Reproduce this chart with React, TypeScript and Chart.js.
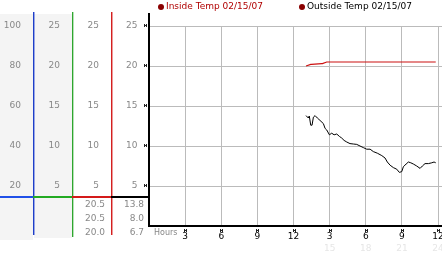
import React, { useEffect, useRef } from "react";
import { Chart, registerables } from "chart.js";

Chart.register(...registerables);

// ---- data ----
const insideLabel = "Inside Temp 02/15/07";
const outsideLabel = "Outside Temp 02/15/07";

const insideHours = [13.04, 13.43, 13.5, 14.34, 14.4, 14.76, 23.81];
const insideTemps = [20.0, 20.2, 20.2, 20.3, 20.3, 20.5, 20.5];

const outsideHours = [
  13.04, 13.23, 13.31, 13.43, 13.54, 13.65, 13.79, 13.98, 14.2, 14.48,
  14.62, 14.76, 14.98, 15.17, 15.37, 15.59, 15.81, 16.0, 16.2, 16.42,
  16.69, 16.97, 17.25, 17.52, 17.8, 18.08, 18.36, 18.63, 18.96, 19.33,
  19.6, 19.79, 20.02, 20.29, 20.57, 20.79, 20.99, 21.12, 21.35, 21.54,
  21.74, 21.95, 22.23, 22.51, 22.7, 22.92, 23.2, 23.48, 23.67, 23.81,
];
const outsideTemps = [
  13.8, 13.5, 13.75, 12.6, 12.6, 13.6, 13.8, 13.5, 13.2, 12.8,
  12.2, 12.0, 11.4, 11.6, 11.4, 11.5, 11.2, 11.0, 10.7, 10.5,
  10.3, 10.25, 10.2, 10.0, 9.8, 9.6, 9.6, 9.3, 9.1, 8.8,
  8.5, 8.0, 7.6, 7.3, 7.1, 6.7, 6.8, 7.4, 7.75, 8.0,
  7.9, 7.75, 7.5, 7.2, 7.5, 7.8, 7.8, 7.9, 8.0, 7.9,
];

const hourTicks = [3, 6, 9, 12, 15, 18, 21, 24];
const secondRowTicks = [15, 18, 21, 24];
const tempTicks = [5, 10, 15, 20, 25];
const percentTicks = [20, 40, 60, 80, 100];
// max, current, min
const insideStats = [20.5, 20.5, 20.0];
const outsideStats = [13.8, 8.0, 6.7];
const axisTitle = "Hours";

const FONT = "DejaVu Sans";

const decorPlugin = {
  id: "decor",
  beforeDraw(chart: any) {
    const ctx = chart.ctx;
    const s = chart.scales;
    ctx.save();
    ctx.fillStyle = "#ffffff";
    ctx.fillRect(0, 0, chart.width, chart.height);
    ctx.fillStyle = "#f4f4f4";
    ctx.fillRect(s.p.left, 14, s.p.right - s.p.left, 226);
    ctx.fillRect(s.a.left + 1, 14, s.a.right - s.a.left - 1, 224);
    ctx.restore();
  },
  afterDraw(chart: any) {
    const ctx = chart.ctx;
    const s = chart.scales;
    const area = chart.chartArea;
    ctx.save();
    // column separator lines
    const vline = (x: number, len: number, c1: string, c2: string) => {
      const xi = Math.round(x);
      ctx.fillStyle = c2;
      ctx.fillRect(xi + 1, 12, 1, len);
      ctx.fillStyle = c1;
      ctx.fillRect(xi, 12, 1, len);
    };
    vline(s.p.right, 223, "#1e3ec8", "rgba(40,70,210,0.45)");
    vline(s.a.right, 225, "#2ea62e", "rgba(46,166,46,0.35)");
    vline(s.b.right, 223, "#d42020", "rgba(212,32,32,0.45)");
    ctx.fillStyle = "#000";
    ctx.fillRect(area.left - 1, 13, 2, area.bottom - 13);

    // horizontal colored bar
    const barY = area.bottom - 30;
    ctx.fillStyle = "#2050e8";
    ctx.fillRect(s.p.left, barY, s.p.right - s.p.left, 2);
    ctx.fillStyle = "#22aa22";
    ctx.fillRect(s.a.left, barY, s.a.right - s.a.left, 2);
    ctx.fillStyle = "#d41a1a";
    ctx.fillRect(s.b.left, barY, s.b.right - s.b.left, 2);
    ctx.fillStyle = "#000";
    ctx.fillRect(s.y.left, barY, s.y.right - s.y.left, 2);

    // stats
    ctx.font = `9px "${FONT}"`;
    ctx.fillStyle = "#888";
    ctx.textAlign = "right";
    ctx.textBaseline = "middle";
    const rows = [area.bottom - 21.5, area.bottom - 7.5, area.bottom + 6.5];
    insideStats.forEach((v, i) => ctx.fillText(v.toFixed(1), s.b.right - 6, rows[i]));
    outsideStats.forEach((v, i) => ctx.fillText(v.toFixed(1), s.y.right - 5, rows[i]));

    // tick markers
    ctx.fillStyle = "#222";
    const mark = (cx: number, cy: number) => {
      const x0 = Math.round(cx) - 1;
      const y0 = Math.round(cy) - 1;
      ctx.fillRect(x0 - 1, y0 - 1, 1, 1);
      ctx.fillRect(x0 + 1, y0 - 1, 1, 1);
      ctx.fillRect(x0, y0, 1, 1);
      ctx.fillRect(x0 - 1, y0 + 1, 1, 1);
      ctx.fillRect(x0 + 1, y0 + 1, 1, 1);
      ctx.fillRect(x0 - 1, y0, 1, 1);
      ctx.fillRect(x0 + 1, y0, 1, 1);
    };
    tempTicks.forEach((v) => mark(area.left - 3, s.y.getPixelForValue(v)));
    hourTicks.forEach((v) => mark(s.x.getPixelForValue(v) + 1, area.bottom + 5));

    // axis title
    ctx.font = `8px "${FONT}"`;
    ctx.fillStyle = "#888";
    ctx.textAlign = "left";
    ctx.fillText(axisTitle, area.left + 5, area.bottom + 6.5);

    // legend
    ctx.font = `9px "${FONT}"`;
    ctx.textBaseline = "middle";
    const ds = chart.data.datasets;
    const items = [
      { x: area.left + 12, text: ds[0].label, color: "#b00000" },
      { x: area.left + 153, text: ds[1].label, color: "#000000" },
    ];
    items.forEach((it) => {
      ctx.fillStyle = "#8a0000";
      ctx.beginPath();
      ctx.arc(it.x, 7, 3, 0, Math.PI * 2);
      ctx.fill();
      ctx.fillStyle = it.color;
      ctx.fillText(it.text, it.x + 5, 7);
    });
    ctx.restore();
  },
};

export default function App() {
  const ref = useRef<HTMLCanvasElement | null>(null);

  useEffect(() => {
    if (!ref.current) return;
    Chart.defaults.font.family = FONT;
    Chart.defaults.font.size = 9;
    const leftAxis = (weight: number, width: number, max: number, ticks: number[]) => ({
      type: "linear",
      position: "left",
      weight,
      min: 0,
      max,
      afterBuildTicks: (sc: any) => {
        sc.ticks = ticks.map((v) => ({ value: v }));
      },
      afterFit: (sc: any) => {
        sc.width = width;
        sc.paddingTop = 0;
        sc.paddingBottom = 0;
      },
      grid: { display: false, drawTicks: false },
      border: { display: false },
      ticks: { color: "#888", padding: 12, autoSkip: false },
    });
    const fitX = (h: number) => (sc: any) => {
      sc.height = h;
      sc.paddingLeft = 0;
      sc.paddingRight = 0;
    };

    const chart = new Chart(ref.current, {
      type: "line",
      data: {
        datasets: [
          {
            label: insideLabel,
            data: insideHours.map((h, i) => ({ x: h, y: insideTemps[i] })),
            borderColor: "#cc1111",
            borderWidth: 1.2,
            pointRadius: 0,
            tension: 0,
            xAxisID: "x",
            yAxisID: "y",
          },
          {
            label: outsideLabel,
            data: outsideHours.map((h, i) => ({ x: h, y: outsideTemps[i] })),
            borderColor: "#000000",
            borderWidth: 1,
            pointRadius: 0,
            tension: 0,
            xAxisID: "x",
            yAxisID: "y",
          },
        ],
      },
      options: {
        responsive: false,
        animation: false,
        devicePixelRatio: 1,
        layout: { autoPadding: false, padding: { top: 26, left: 0, right: 0, bottom: 0 } },
        plugins: { legend: { display: false }, tooltip: { enabled: false } },
        scales: {
          x: {
            type: "linear",
            position: "bottom",
            weight: 0,
            min: 0,
            max: 24.33,
            afterBuildTicks: (sc: any) => {
              sc.ticks = hourTicks.map((v) => ({ value: v }));
            },
            afterFit: fitX(14),
            grid: { color: "#bbbbbb", drawTicks: false },
            border: { display: true, color: "#000", width: 2 },
            ticks: {
              color: "#000",
              padding: 5,
              maxRotation: 0,
              autoSkip: false,
              callback: (v: any) => String(v % 12 === 0 ? 12 : v % 12),
            },
          },
          x2: {
            type: "linear",
            position: "bottom",
            weight: 1,
            min: 0,
            max: 24.33,
            afterBuildTicks: (sc: any) => {
              sc.ticks = secondRowTicks.map((v) => ({ value: v }));
            },
            afterFit: fitX(13),
            grid: { display: false, drawTicks: false },
            border: { display: false },
            ticks: { color: "#e6e6e6", padding: 3, maxRotation: 0, autoSkip: false },
          },
          p: leftAxis(4, 33, 100, percentTicks),
          a: leftAxis(3, 39, 25, tempTicks),
          b: leftAxis(2, 39, 25, tempTicks),
          y: {
            ...leftAxis(1, 38, 25, tempTicks),
            grid: { display: true, color: "#bbbbbb", drawTicks: false },
            ticks: { color: "#888", padding: 11.5, autoSkip: false },
          },
        },
      } as any,
      plugins: [decorPlugin],
    } as any);
    return () => chart.destroy();
  }, []);

  return (
    <div style={{ position: "absolute", left: 0, top: 0, width: 442, height: 253, background: "#fff" }}>
      <canvas ref={ref} width={442} height={253} />
    </div>
  );
}
